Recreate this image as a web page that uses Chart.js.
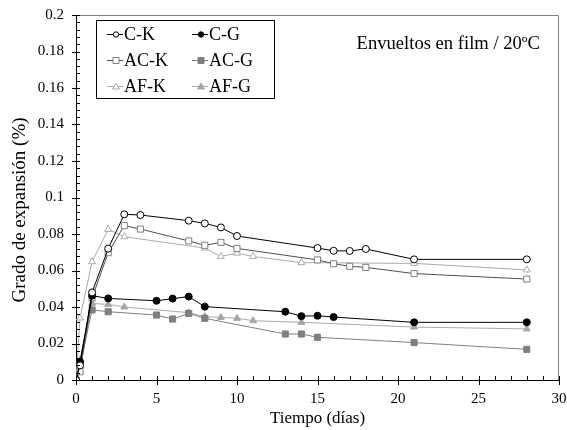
<!DOCTYPE html>
<html>
<head>
<meta charset="utf-8">
<script src="https://cdn.jsdelivr.net/npm/chart.js@4.4.0/dist/chart.umd.min.js"></script>
<style>
  html, body { margin: 0; padding: 0; background: #fff; }
</style>
</head>
<body>
<canvas id="myChart" width="567" height="430"></canvas>
<script>
// valores (días / % de expansión)
const ckDays = [0, 0.25, 1, 2, 3, 4, 7, 8, 9, 10, 15, 16, 17, 18, 21, 28];
const ckValues = [0, 0.008, 0.048, 0.072, 0.0908, 0.0904, 0.0873, 0.0858, 0.0836, 0.0789, 0.0723, 0.0708, 0.0707, 0.0718, 0.0661, 0.0661];

const cgDays = [0, 0.25, 1, 2, 5, 6, 7, 8, 13, 14, 15, 16, 21, 28];
const cgValues = [0, 0.01, 0.0462, 0.0447, 0.0434, 0.0446, 0.0457, 0.0402, 0.0374, 0.035, 0.0352, 0.0345, 0.0316, 0.0316];

const ackDays = [0, 0.25, 1, 2, 3, 4, 7, 8, 9, 10, 15, 16, 17, 18, 21, 28];
const ackValues = [0, 0.0045, 0.045, 0.0698, 0.0846, 0.0827, 0.0762, 0.0738, 0.0754, 0.0721, 0.0658, 0.0637, 0.0623, 0.0617, 0.0583, 0.0553];

const acgDays = [0, 0.25, 1, 2, 5, 6, 7, 8, 13, 14, 15, 21, 28];
const acgValues = [0, 0.008, 0.0384, 0.0374, 0.0356, 0.0334, 0.0365, 0.0338, 0.0252, 0.0252, 0.0234, 0.0205, 0.0168];

const afkDays = [0, 0.25, 1, 2, 3, 8, 9, 10, 11, 14, 21, 28];
const afkValues = [0, 0.034, 0.0648, 0.0825, 0.0785, 0.0723, 0.0677, 0.0695, 0.0677, 0.0643, 0.0639, 0.0603];

const afgDays = [0, 0.25, 1, 2, 3, 7, 8, 9, 10, 11, 14, 21, 28];
const afgValues = [0, 0.011, 0.042, 0.0414, 0.04, 0.0369, 0.0347, 0.0343, 0.0338, 0.0325, 0.0316, 0.029, 0.028];

const xTickValues = [0, 5, 10, 15, 20, 25, 30];
const yTickValues = [0, 0.02, 0.04, 0.06, 0.08, 0.1, 0.12, 0.14, 0.16, 0.18, 0.2];

const serif = "'Liberation Serif', 'Times New Roman', serif";

const toPoints = (days, vals) => days.map((d, i) => ({ x: d, y: vals[i] }));

function makeSet(label, days, vals, line, style, fill, edge, r) {
    return {
        label: label,
        data: toPoints(days, vals),
        borderColor: line,
        borderWidth: 1,
        pointStyle: style,
        pointRadius: r,
        pointBackgroundColor: fill,
        pointBorderColor: edge,
        pointBorderWidth: 1,
        tension: 0,
        fill: false,
    };
}

const datasets = [
    makeSet('C-K', ckDays, ckValues, '#000', 'circle', '#fff', '#000', 3.5),
    makeSet('C-G', cgDays, cgValues, '#000', 'circle', '#000', '#000', 3.5),
    makeSet('AC-K', ackDays, ackValues, '#505050', 'rect', '#fff', '#7f7f7f', 4.3),
    makeSet('AC-G', acgDays, acgValues, '#7f7f7f', 'rect', '#7f7f7f', '#7f7f7f', 4.3),
    makeSet('AF-K', afkDays, afkValues, '#ababab', 'triangle', '#fff', '#ababab', 4),
    makeSet('AF-G', afgDays, afgValues, '#ababab', 'triangle', '#a6a6a6', '#a6a6a6', 4),
];

// marcador pequeño para la leyenda
function legendMarker(ctx, style, x, y, fill, edge) {
    ctx.fillStyle = fill;
    ctx.strokeStyle = edge;
    ctx.lineWidth = 1;
    ctx.beginPath();
    if (style === 'circle') {
        ctx.arc(x, y, 2.7, 0, Math.PI * 2);
    } else if (style === 'rect') {
        ctx.rect(x - 3, y - 3, 6, 6);
    } else {
        ctx.moveTo(x, y - 3.5);
        ctx.lineTo(x + 3.5, y + 2.5);
        ctx.lineTo(x - 3.5, y + 2.5);
        ctx.closePath();
    }
    ctx.fill();
    ctx.stroke();
}

// sin márgenes extra por las etiquetas de los extremos
const noOverflow = (s) => {
    s.paddingLeft = 0;
    s.paddingRight = 0;
    s.paddingTop = 0;
    s.paddingBottom = 0;
};

const decor = {
    id: 'decor',
    afterDraw(chart) {
        const { ctx, chartArea: a, scales: { x, y } } = chart;
        ctx.save();

        // marco gris arriba y a la derecha
        ctx.strokeStyle = '#808080';
        ctx.lineWidth = 1;
        ctx.beginPath();
        ctx.moveTo(a.left, a.top + 0.5);
        ctx.lineTo(Math.round(a.right) - 0.5, a.top + 0.5);
        ctx.lineTo(Math.round(a.right) - 0.5, a.bottom);
        ctx.stroke();

        // marcas mayores y menores de los ejes
        ctx.strokeStyle = '#000';
        ctx.beginPath();
        for (let d = 0; d <= 30; d++) {
            const px = Math.round(x.getPixelForValue(d)) + 0.5;
            const major = d % 5 === 0;
            ctx.moveTo(px, a.bottom - 4);
            ctx.lineTo(px, a.bottom + (major ? 5 : 0));
        }
        for (let k = 0; k <= 50; k++) {
            const py = Math.round(y.getPixelForValue(k * 0.004)) + 0.5;
            const major = k % 5 === 0;
            ctx.moveTo(a.left + 4, py);
            ctx.lineTo(a.left - (major ? 4 : 0), py);
        }
        ctx.stroke();

        // leyenda
        ctx.strokeStyle = '#000';
        ctx.strokeRect(96.5, 20.5, 178, 78);
        ctx.font = '18px ' + serif;
        ctx.textBaseline = 'middle';
        ctx.textAlign = 'left';
        chart.data.datasets.forEach((ds, i) => {
            const col = i % 2;
            const row = Math.floor(i / 2);
            const x0 = col === 0 ? 107 : 192;
            const yy = 34 + row * 26;
            ctx.strokeStyle = ds.borderColor;
            ctx.beginPath();
            ctx.moveTo(x0, yy + 0.5);
            ctx.lineTo(x0 + 16, yy + 0.5);
            ctx.stroke();
            legendMarker(ctx, ds.pointStyle, x0 + 9, yy + 0.5, ds.pointBackgroundColor, ds.pointBorderColor);
            ctx.fillStyle = '#000';
            ctx.fillText(ds.label, x0 + 17, yy + 1);
        });

        // anotación
        ctx.font = '18.6px ' + serif;
        ctx.textAlign = 'right';
        ctx.fillText('Envueltos en film / 20ºC', 540, 44);

        // título del eje y
        ctx.translate(20, 210);
        ctx.rotate(-Math.PI / 2);
        ctx.font = '19px ' + serif;
        ctx.textAlign = 'center';
        ctx.fillText('Grado de expansión (%)', 0, 0);
        ctx.restore();
    }
};

new Chart(document.getElementById('myChart'), {
    type: 'line',
    data: { datasets: datasets },
    options: {
        responsive: false,
        animation: false,
        layout: { padding: { top: 15, right: 8, left: 0, bottom: 0 } },
        plugins: { legend: { display: false }, tooltip: { enabled: false } },
        scales: {
            x: {
                type: 'linear',
                min: 0,
                max: 30,
                afterBuildTicks: (s) => { s.ticks = xTickValues.map((v) => ({ value: v })); },
                afterFit: (s) => { s.height = 50; noOverflow(s); },
                grid: { display: true, drawOnChartArea: false, drawTicks: false },
                border: { color: '#000', width: 1 },
                ticks: { color: '#000', padding: 10, font: { family: serif, size: 15 }, callback: (v) => String(v) },
                title: { display: true, text: 'Tiempo (días)', color: '#000', font: { family: serif, size: 17 }, padding: { top: 0, bottom: 1 } },
            },
            y: {
                min: 0,
                max: 0.2,
                afterBuildTicks: (s) => { s.ticks = yTickValues.map((v) => ({ value: v })); },
                afterFit: (s) => { s.width = 76; noOverflow(s); },
                grid: { display: true, drawOnChartArea: false, drawTicks: false },
                border: { color: '#000', width: 1 },
                ticks: { color: '#000', padding: 12, font: { family: serif, size: 15 }, callback: (v) => String(Number(v.toFixed(3))) },
            },
        },
    },
    plugins: [decor],
});
</script>
</body>
</html>
